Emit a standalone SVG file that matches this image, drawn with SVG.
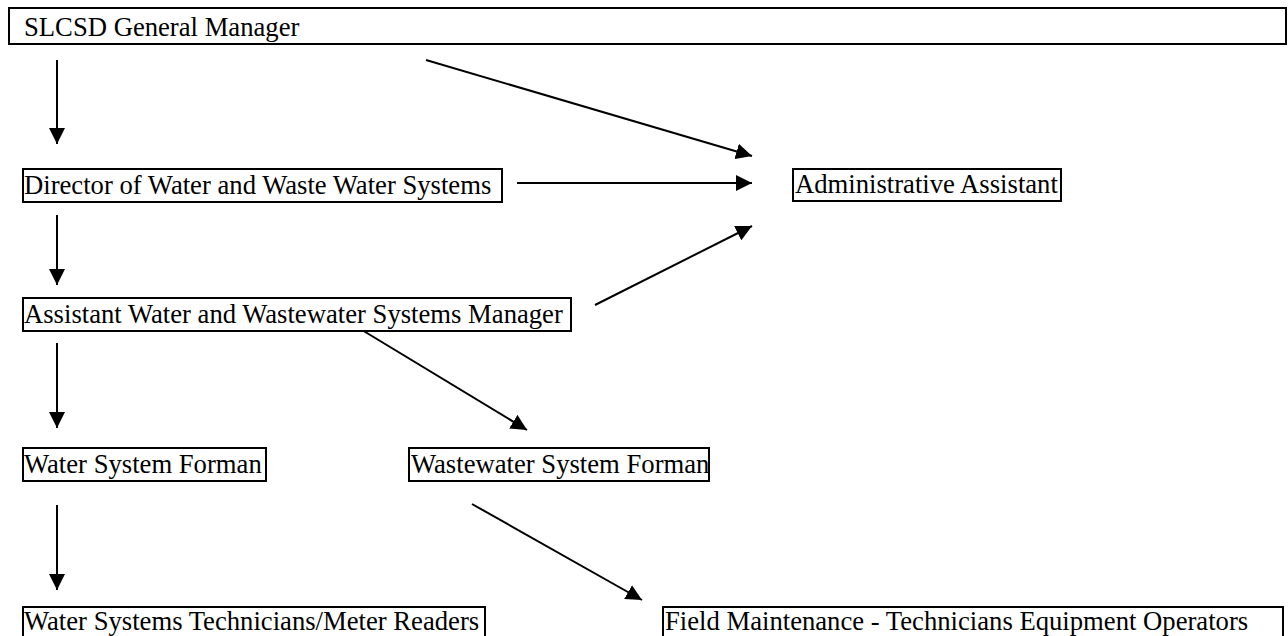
<svg xmlns="http://www.w3.org/2000/svg" width="1288" height="636" viewBox="0 0 1288 636">
<style>
.box{fill:#fff;stroke:#000;stroke-width:2}
.t{font-family:"Liberation Serif","Times New Roman",serif;font-size:26.67px;fill:#000}
.c{stroke:#000;stroke-width:2;fill:none;marker-end:url(#ah)}
</style>
<defs>
<marker id="ah" markerUnits="userSpaceOnUse" markerWidth="17" markerHeight="16" refX="16" refY="8" orient="auto">
<path d="M0,0 L16,8 L0,16 z" fill="#000"/>
</marker>
</defs>
<rect width="1288" height="636" fill="#fff"/>
<g id="connectors">
<line class="c" x1="57" y1="60" x2="57" y2="144"/>
<line class="c" x1="426" y1="60" x2="752" y2="156"/>
<line class="c" x1="517" y1="183" x2="752" y2="183"/>
<line class="c" x1="57" y1="215" x2="57" y2="285"/>
<line class="c" x1="595" y1="305" x2="752" y2="226"/>
<line class="c" x1="57" y1="343" x2="57" y2="428"/>
<line class="c" x1="362" y1="330" x2="527" y2="430"/>
<line class="c" x1="57" y1="505" x2="57" y2="590"/>
<line class="c" x1="472" y1="504" x2="642" y2="600"/>
</g>
<g id="gm"><rect class="box" x="9" y="8" width="1277" height="36"/><text class="t" x="24" y="36">SLCSD General Manager</text></g>
<g id="director"><rect class="box" x="23" y="169" width="479" height="33"/><text class="t" x="24" y="194">Director of Water and Waste Water Systems</text></g>
<g id="admin"><rect class="box" x="793" y="169" width="268" height="32"/><text class="t" x="795" y="193">Administrative Assistant</text></g>
<g id="asst"><rect class="box" x="23" y="298" width="548" height="33"/><text class="t" x="24" y="323">Assistant Water and Wastewater Systems Manager</text></g>
<g id="water-forman"><rect class="box" x="23" y="448" width="243" height="33"/><text class="t" x="24" y="473">Water System Forman</text></g>
<g id="ww-forman"><rect class="box" x="409" y="448" width="300" height="33"/><text class="t" x="411" y="473">Wastewater System Forman</text></g>
<g id="techs"><rect class="box" x="23" y="607" width="462" height="34"/><text class="t" x="24" y="630">Water Systems Technicians/Meter Readers</text></g>
<g id="field"><rect class="box" x="663" y="607" width="620" height="34"/><text class="t" x="665" y="630">Field Maintenance - Technicians Equipment Operators</text></g>
</svg>
